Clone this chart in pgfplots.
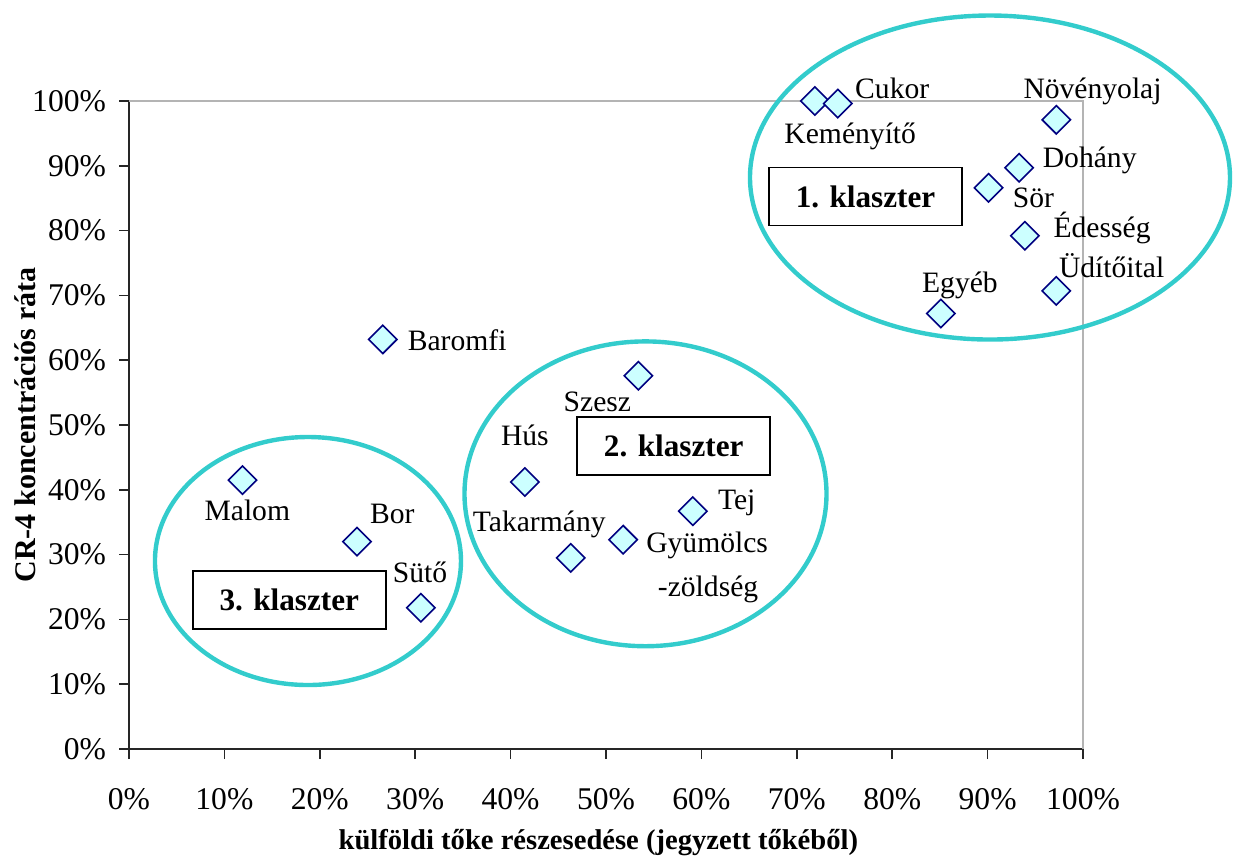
\documentclass[border=0pt]{standalone}
\usepackage{fontspec}
\setmainfont{Liberation Serif}
\usepackage{pgfplots}
\pgfplotsset{compat=1.18}
\definecolor{ringc}{HTML}{33CCCC}
\definecolor{markfill}{HTML}{CCFFFF}
\definecolor{markedge}{HTML}{000080}
\definecolor{framegray}{HTML}{B4B4B4}

% x = foreign capital share (%), y = CR-4 concentration (%)
\pgfplotstableread{
x     y
71.9  100.0
74.3  99.6
97.2  97.1
93.3  89.7
90.1  86.6
93.9  79.2
97.2  70.7
85.1  67.2
26.6  63.2
53.4  57.6
41.5  41.2
59.1  36.7
51.8  32.3
46.3  29.5
11.9  41.5
23.9  32.0
30.6  21.8
}\sectors

\begin{document}
\begin{tikzpicture}[
  lbl/.style={font=\fontsize{14.8}{17}\selectfont, anchor=base, inner sep=0pt},
  ring/.style={draw=ringc, line width=2.2pt},
  kbox/.style={draw=black, line width=0.9pt, fill=white, minimum width=96.5pt,
    minimum height=29pt, inner sep=0pt,
    font=\fontsize{15.6}{18}\bfseries\selectfont}]
\begin{axis}[
  scale only axis, width=477pt, height=324pt,
  xmin=0, xmax=100, ymin=0, ymax=100,
  xtick={0,10,...,100}, ytick={0,10,...,100},
  axis lines=left, axis line style={-, black!85, line width=0.9pt},
  tick align=outside, major tick length=5pt,
  tick style={black!85, line width=0.8pt},
  xticklabel={\pgfmathprintnumber{\tick}\%},
  yticklabel={\pgfmathprintnumber{\tick}\%},
  /pgf/number format/assume math mode=true,
  ticklabel style={font=\fontsize{15.8}{18}\selectfont},
  xticklabel style={yshift=-11pt},
  yticklabel style={xshift=-3pt},
  xlabel={külföldi tőke részesedése (jegyzett tőkéből)},
  ylabel={CR-4 koncentrációs ráta},
  xlabel style={at={(axis description cs:0.492,-0.145)}, anchor=center,
    font=\fontsize{14.3}{17}\bfseries\selectfont},
  ylabel style={at={(axis description cs:-0.109,0.5)}, anchor=center, rotate=0,
    font=\fontsize{15}{17}\bfseries\selectfont},
  clip=false,
]
\draw[framegray, line width=0.8pt] (rel axis cs:0,1) -- (rel axis cs:1,1) -- (rel axis cs:1,0);

\draw[ring] (axis cs:90.25,88.19) ellipse [x radius=120pt, y radius=81pt];
\draw[ring] (axis cs:54.14,39.38) ellipse [x radius=90.5pt, y radius=76.2pt];
\draw[ring] (axis cs:18.76,29.01) ellipse [x radius=76.5pt, y radius=62pt];

\addplot[only marks, mark=square*, mark size=5pt,
  mark options={rotate=45, fill=markfill, draw=markedge, line width=0.8pt}]
  table[x=x, y=y] {\sectors};

\node[kbox] at (axis cs:77.2,85.26) {1. klaszter};
\node[kbox] at (axis cs:57.1,46.76) {2. klaszter};
\node[kbox] at (axis cs:16.8,23.0) {3. klaszter};

\node[lbl] at (axis cs:80.0,100.4) {Cukor};
\node[lbl] at (axis cs:75.6,93.4) {Keményítő};
\node[lbl] at (axis cs:101.0,100.4) {Növényolaj};
\node[lbl] at (axis cs:100.7,89.7) {Dohány};
\node[lbl] at (axis cs:94.8,83.5) {Sör};
\node[lbl] at (axis cs:102.0,79.0) {Édesség};
\node[lbl] at (axis cs:103.0,72.7) {Üdítőital};
\node[lbl] at (axis cs:87.1,70.5) {Egyéb};
\node[lbl] at (axis cs:34.4,61.5) {Baromfi};
\node[lbl] at (axis cs:49.1,52.05) {Szesz};
\node[lbl] at (axis cs:41.5,46.76) {Hús};
\node[lbl] at (axis cs:63.7,36.9) {Tej};
\node[lbl] at (axis cs:43.0,33.5) {Takarmány};
\node[lbl] at (axis cs:60.6,30.25) {Gyümölcs};
\node[lbl] at (axis cs:60.7,23.46) {-zöldség};
\node[lbl] at (axis cs:12.4,35.3) {Malom};
\node[lbl] at (axis cs:27.6,34.8) {Bor};
\node[lbl] at (axis cs:30.5,25.7) {Sütő};

\coordinate (bbsw) at (rel axis cs:-0.13522,-0.16667);
\coordinate (bbne) at (rel axis cs:1.16457,1.15586);
\end{axis}
\pgfresetboundingbox
\useasboundingbox (bbsw) rectangle (bbne);
\end{tikzpicture}
\end{document}
